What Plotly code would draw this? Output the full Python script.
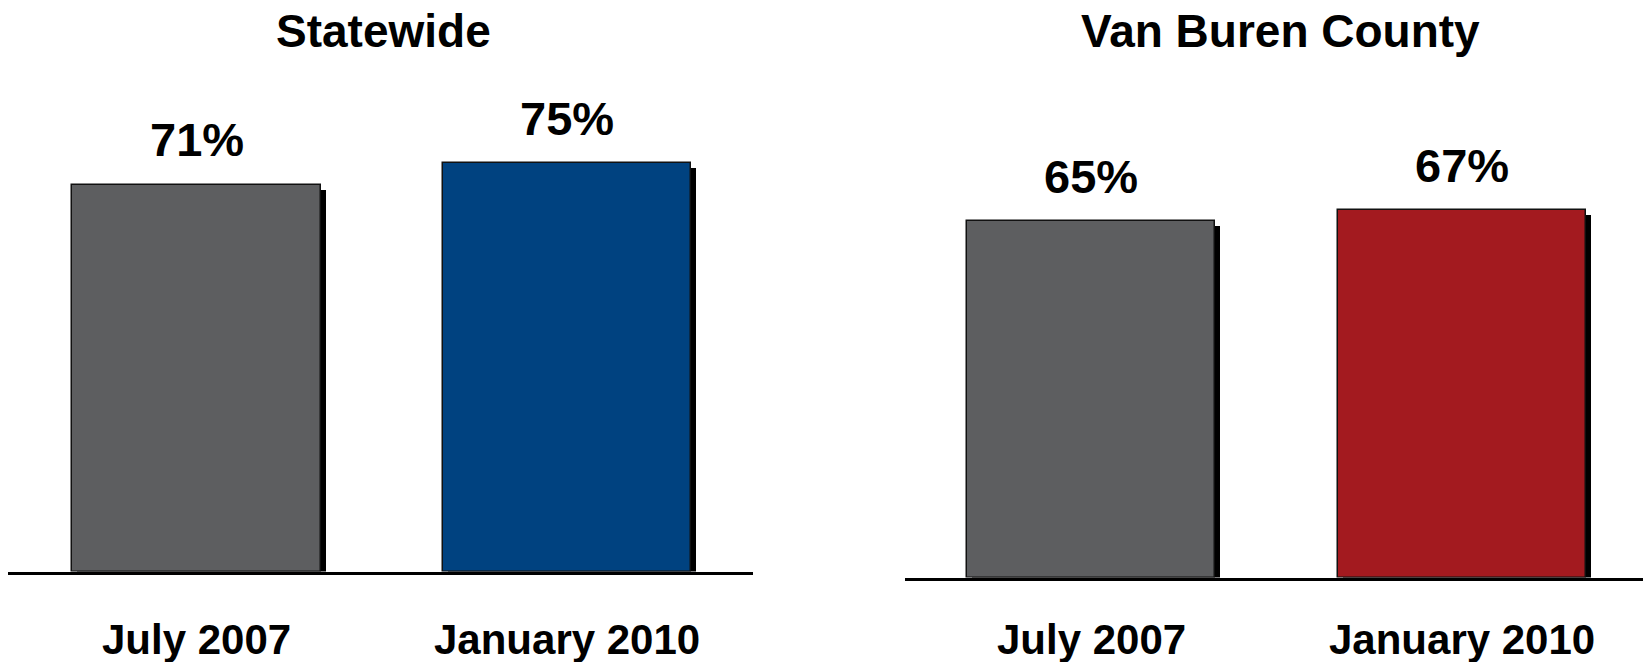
import plotly.graph_objects as go

# ---- data ----
categories = ["July 2007", "January 2010"]
statewide_values = [71, 75]
vanburen_values = [65, 67]
panel_titles = ["Statewide", "Van Buren County"]
statewide_colors = ["#5D5E60", "#004280"]
vanburen_colors = ["#5D5E60", "#A31A1F"]

# page body margin is removed by a post script, figure fills the window
OFF = 0
W, H = 1643 - OFF, 662 - OFF
FONT = "Liberation Sans, Arial, Helvetica, sans-serif"

# panel geometry (window pixels)
panels = [
    dict(x0=8, x1=753, base=573, rng_x=(-0.509, 1.502), rng_y=104.96,
         values=statewide_values, colors=statewide_colors, title=panel_titles[0],
         title_x=383, xa="x", ya="y"),
    dict(x0=905, x1=1643, base=579, rng_x=(-0.503, 1.489), rng_y=105.3,
         values=vanburen_values, colors=vanburen_colors, title=panel_titles[1],
         title_x=1280, xa="x2", ya="y2"),
]

BAR_W = 0.67
SHADOW_PX = 5
LINE_W = 3


def fx(px):
    return (px - OFF) / W


def fy(py):
    return (H - (py - OFF)) / H


fig = go.Figure()
layout_axes = {}
annotations = []

for i, p in enumerate(panels):
    xdom = [max(0.0, fx(p["x0"])), min(1.0, fx(p["x1"]))]
    dom_bottom_px = p["base"] - LINE_W / 2  # window px from top
    ydom = [fy(dom_bottom_px), 1.0]
    plot_h = dom_bottom_px - OFF
    x_span_px = (xdom[1] - xdom[0]) * W
    px_per_x = x_span_px / (p["rng_x"][1] - p["rng_x"][0])
    rng_y = p["rng_y"] * plot_h / (dom_bottom_px)
    px_per_y = plot_h / rng_y
    dx = SHADOW_PX / px_per_x
    dy = SHADOW_PX / px_per_y

    # shadow
    fig.add_trace(go.Bar(
        x=categories, y=[v - dy for v in p["values"]],
        width=BAR_W, offset=-BAR_W / 2 + dx,
        marker=dict(color="black", line=dict(width=0)),
        xaxis=p["xa"], yaxis=p["ya"], hoverinfo="skip", showlegend=False,
    ))
    # main bars
    fig.add_trace(go.Bar(
        x=categories, y=p["values"],
        width=BAR_W, offset=-BAR_W / 2,
        marker=dict(color=p["colors"], line=dict(width=1.5, color="#111111")),
        xaxis=p["xa"], yaxis=p["ya"], showlegend=False,
    ))

    sfx = "" if i == 0 else str(i + 1)
    layout_axes["xaxis" + sfx] = dict(
        domain=xdom, range=list(p["rng_x"]), type="category",
        showline=True, linewidth=LINE_W, linecolor="black",
        showgrid=False, zeroline=False, showticklabels=False, ticks="",
        anchor="y" + sfx, fixedrange=True,
    )
    layout_axes["yaxis" + sfx] = dict(
        domain=ydom, range=[0, rng_y], visible=False,
        showgrid=False, zeroline=False, anchor="x" + sfx, fixedrange=True,
    )

    for c, v in zip(categories, p["values"]):
        annotations.append(dict(
            x=c, y=v, xref=p["xa"], yref=p["ya"], text=f"<b>{v}%</b>",
            showarrow=False, yanchor="middle", yshift=45,
            font=dict(family=FONT, size=47, color="black"),
        ))
        annotations.append(dict(
            x=c, y=fy(639), xref=p["xa"], yref="paper", text=f"<b>{c}</b>",
            showarrow=False, yanchor="middle",
            font=dict(family=FONT, size=42, color="black"),
        ))
    annotations.append(dict(
        x=fx(p["title_x"]), y=fy(31), xref="paper", yref="paper",
        text=f"<b>{p['title']}</b>", showarrow=False, yanchor="middle",
        xanchor="center", font=dict(family=FONT, size=46, color="black"),
    ))

fig.update_layout(
    width=W, height=H, margin=dict(l=0, r=0, t=0, b=0),
    paper_bgcolor="white", plot_bgcolor="white",
    barmode="overlay", bargap=0, showlegend=False,
    annotations=annotations, **layout_axes,
)

fig.write_html(
    "out.html",
    config={"displayModeBar": False},
    post_script="document.body.style.margin='0px';document.body.style.overflow='hidden';",
)
